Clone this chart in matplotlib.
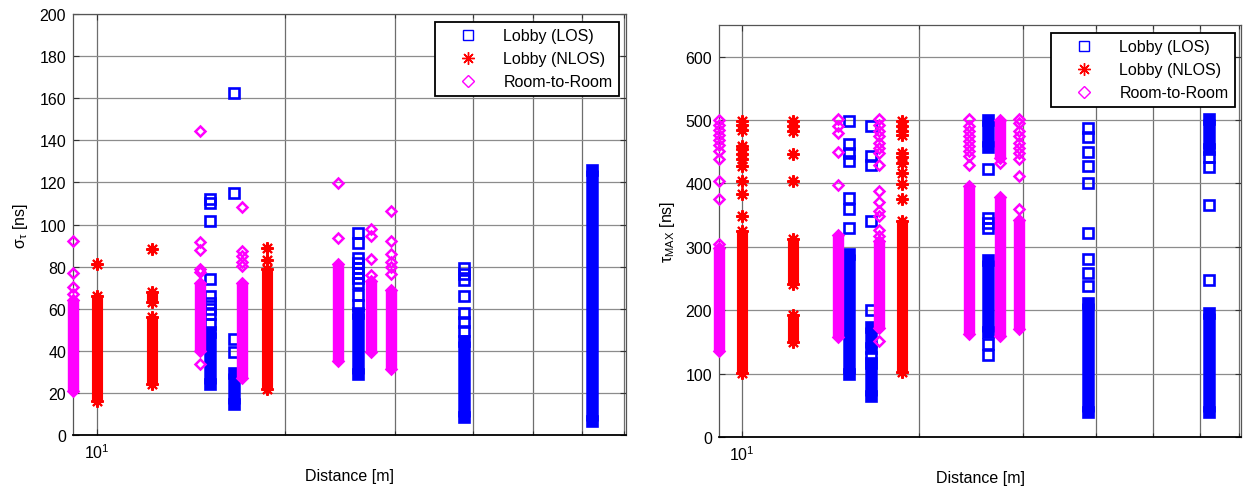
import matplotlib
matplotlib.use("Agg")
import matplotlib.pyplot as plt
from matplotlib.lines import Line2D
from matplotlib.ticker import LogLocator, MultipleLocator, NullFormatter

plt.rcParams['font.family'] = ['Liberation Sans', 'DejaVu Sans']
plt.rcParams['font.size'] = 11.5
plt.rcParams['mathtext.fontset'] = 'custom'
plt.rcParams['mathtext.rm'] = 'Liberation Sans'
plt.rcParams['mathtext.it'] = 'Liberation Sans:italic'
plt.rcParams['mathtext.default'] = 'regular'

# distances of the measurement positions [m]
dist_los = [15.2, 16.6, 26.2, 38.7, 62.1]
dist_nlos = [10.0, 12.24, 18.75]
dist_room = [9.15, 14.6, 17.1, 24.3, 27.5, 29.6]

# rms delay spread [ns]: dense runs (low, high) and single visible points
sigma_los_dense = [[(24, 49)], [(14.5, 29.5)], [(29, 58)], [(8.5, 44.5)], [(6.5, 126)]]
sigma_los_points = [[52.6, 57.3, 59.7, 62.9, 66, 74, 101.5, 110.4, 112.3],
                    [39.4, 45.8, 114.8, 162.3],
                    [61.6, 66.4, 72.4, 74.8, 77.1, 79.5, 81.9, 84.3, 91.1, 96.1],
                    [49.4, 53.7, 58.1, 66, 73.6, 76.3, 79.5],
                    []]
sigma_nlos_dense = [[(16, 66)], [(24, 56), (63, 68)], [(22, 79)]]
sigma_nlos_points = [[81], [88.5], [83, 89]]
sigma_room_dense = [[(21, 64)], [(40, 72)], [(27, 72)], [(35, 81)], [(39.5, 73)], [(31.5, 69)]]
sigma_room_points = [[67, 70.5, 77, 92],
                     [33.5, 77.5, 79, 88, 91.5, 144.5],
                     [80.5, 82, 85, 87.5, 108.3],
                     [93.8, 119.6],
                     [76, 83.5, 94.7, 97.7],
                     [76.3, 80, 82, 85.8, 92.2, 106.4]]

# maximum excess delay [ns]
tau_los_dense = [[(99, 288)], [(65, 117), (141, 173)], [(165, 280), (458, 500)],
                 [(40, 212)], [(40, 196), (455, 502)]]
tau_los_points = [[329, 359, 377, 435, 448, 463, 498],
                  [127, 201, 341, 429, 443, 490],
                  [130, 146, 330, 338, 346, 423],
                  [238, 259, 281, 322, 401, 427, 450, 474, 488],
                  [247, 366, 426, 441]]
tau_nlos_dense = [[(101, 325)], [(150, 192), (242, 313)], [(102, 340)]]
tau_nlos_points = [[349, 383, 404, 427, 439, 446, 454, 459, 484, 492, 498],
                   [404, 447, 483, 490, 498],
                   [375, 399, 417, 433, 441, 448, 477, 483, 490, 498]]
tau_room_dense = [[(135, 298)], [(158, 318)], [(172, 310)], [(162, 396)],
                  [(160, 378), (440, 500)], [(170, 343)]]
tau_room_points = [[305, 375, 404, 438, 451, 460, 469, 477, 485, 493, 500],
                   [397, 449, 480, 490, 501],
                   [151, 317, 327, 349, 356, 370, 388, 429, 448, 456, 464, 475, 483, 493, 501],
                   [429, 443, 451, 459, 467, 475, 482, 490, 501],
                   [433],
                   [359, 412, 438, 448, 456, 464, 475, 483, 496, 501]]

labels = ['Lobby (LOS)', 'Lobby (NLOS)', 'Room-to-Room']
BLUE, RED, MAG = '#0000ff', '#ff0000', '#ff00ff'
STAR = (8, 2, 0)

styles = {
    'los': dict(color=BLUE, marker='s', ms=7, mew=1.9, bar=9.0),
    'nlos': dict(color=RED, marker=STAR, ms=9, mew=1.5, bar=8.0),
    'room': dict(color=MAG, marker='D', ms=5.0, mew=1.8, bar=8.2),
}


def draw_series(ax, dists, dense, points, st, z):
    c = st['color']
    for d, runs, pts in zip(dists, dense, points):
        ends = []
        for lo, hi in runs:
            ax.plot([d, d], [lo, hi], color=c, lw=st['bar'],
                    solid_capstyle='butt', zorder=z, clip_on=False)
            ends += [lo, hi]
        if ends:
            ax.plot([d] * len(ends), ends, ls='none', marker=st['marker'],
                    ms=st['ms'], mew=st['mew'], mec=c, mfc=c, zorder=z,
                    clip_on=False)
        if pts:
            ax.plot([d] * len(pts), pts, ls='none', marker=st['marker'],
                    ms=st['ms'], mew=st['mew'], mec=c, mfc='none', zorder=z,
                    clip_on=False)


def style_axes(ax, ymax, ystep):
    ax.set_xscale('log')
    ax.set_xlim(9.15, 70.5)
    ax.set_ylim(0, ymax)
    ax.yaxis.set_major_locator(MultipleLocator(ystep))
    ax.xaxis.set_major_locator(LogLocator(base=10))
    ax.xaxis.set_minor_locator(LogLocator(base=10, subs=range(2, 10)))
    ax.xaxis.set_minor_formatter(NullFormatter())
    ax.grid(True, axis='y', which='major', color='#8c8c8c', lw=0.9)
    ax.grid(True, axis='x', which='both', color='#6e6e6e', lw=0.9)
    ax.set_axisbelow(True)
    ax.tick_params(which='both', direction='in', top=True, right=True,
                   labelsize=11.5, width=0.8, color='#333333')
    ax.tick_params(which='major', length=4, pad=5)
    ax.tick_params(which='minor', length=3)
    for s in ax.spines.values():
        s.set_color('#555555')
        s.set_linewidth(0.9)
    ax.spines['bottom'].set_color('black')
    ax.spines['bottom'].set_linewidth(1.3)
    ax.set_xlabel('Distance [m]', fontsize=11.5, labelpad=5)


def add_legend(ax, anchor):
    handles = [
        Line2D([], [], ls='none', marker='s', ms=7.5, mew=1.0, mec=BLUE, mfc='none'),
        Line2D([], [], ls='none', marker=STAR, ms=9, mew=1.0, mec=RED),
        Line2D([], [], ls='none', marker='D', ms=6, mew=1.0, mec=MAG, mfc='none'),
    ]
    leg = ax.legend(handles, labels, loc='upper right', bbox_to_anchor=anchor,
                    fontsize=11.5, frameon=True, fancybox=False, framealpha=1,
                    borderpad=0.4, handlelength=3.4, handletextpad=0.5,
                    labelspacing=0.5, borderaxespad=0)
    leg.get_frame().set_edgecolor('black')
    leg.get_frame().set_linewidth(1.3)


fig = plt.figure(figsize=(12.44, 4.89), dpi=100)
ax1 = fig.add_axes([73 / 1244, 53 / 489, 553 / 1244, 421 / 489])
ax2 = fig.add_axes([719 / 1244, 51 / 489, 522 / 1244, 412 / 489])

draw_series(ax1, dist_los, sigma_los_dense, sigma_los_points, styles['los'], 3)
draw_series(ax1, dist_nlos, sigma_nlos_dense, sigma_nlos_points, styles['nlos'], 4)
draw_series(ax1, dist_room, sigma_room_dense, sigma_room_points, styles['room'], 5)
style_axes(ax1, 200, 20)
ax1.set_ylabel(r'$\sigma_{\tau}$ [ns]', fontsize=11.5, labelpad=7)
add_legend(ax1, (0.987, 0.981))

draw_series(ax2, dist_los, tau_los_dense, tau_los_points, styles['los'], 3)
draw_series(ax2, dist_nlos, tau_nlos_dense, tau_nlos_points, styles['nlos'], 4)
draw_series(ax2, dist_room, tau_room_dense, tau_room_points, styles['room'], 5)
style_axes(ax2, 650, 100)
ax2.set_ylabel(r'$\tau_{MAX}$ [ns]', fontsize=11.5, labelpad=6)
add_legend(ax2, (0.9885, 0.9806))

fig.savefig('out.png', dpi=100)
